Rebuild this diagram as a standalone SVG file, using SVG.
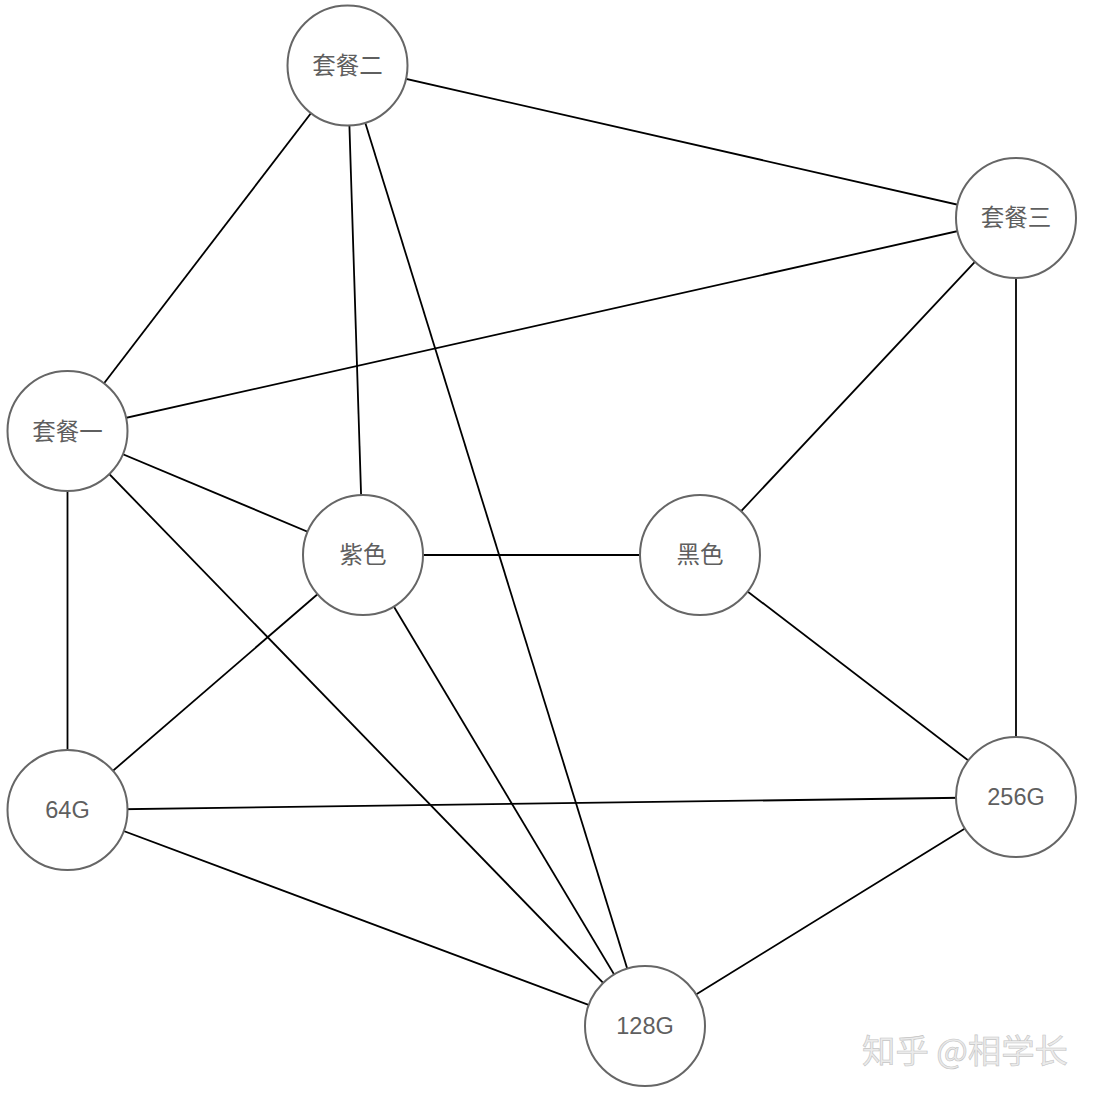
<svg xmlns="http://www.w3.org/2000/svg" width="1096" height="1098" viewBox="0 0 1096 1098">
<style>
.edge{stroke:#000;stroke-width:1.8;fill:none}
.node circle{fill:#fff;stroke:#666;stroke-width:2}
.node text{font-family:"Liberation Sans","Noto Sans CJK SC",sans-serif;font-size:23.5px;fill:#5f5f5f;text-anchor:middle;dominant-baseline:central}
.wm{font-family:"Noto Sans CJK SC","Liberation Sans",sans-serif;font-size:33px;fill:#ebebeb;stroke:#c4c4c4;stroke-width:0.6}
</style>
<rect width="1096" height="1098" fill="#fff"/>
<g id="connectors">
<line class="edge" x1="347.5" y1="65.5" x2="1016" y2="218"/>
<line class="edge" x1="347.5" y1="65.5" x2="67.5" y2="431"/>
<line class="edge" x1="347.5" y1="65.5" x2="363" y2="555"/>
<line class="edge" x1="347.5" y1="65.5" x2="645" y2="1026"/>
<line class="edge" x1="1016" y1="218" x2="67.5" y2="431"/>
<line class="edge" x1="1016" y1="218" x2="700" y2="555"/>
<line class="edge" x1="1016" y1="218" x2="1016" y2="797"/>
<line class="edge" x1="67.5" y1="431" x2="363" y2="555"/>
<line class="edge" x1="67.5" y1="431" x2="67.5" y2="810"/>
<line class="edge" x1="67.5" y1="431" x2="645" y2="1026"/>
<line class="edge" x1="363" y1="555" x2="700" y2="555"/>
<line class="edge" x1="363" y1="555" x2="67.5" y2="810"/>
<line class="edge" x1="363" y1="555" x2="645" y2="1026"/>
<line class="edge" x1="700" y1="555" x2="1016" y2="797"/>
<line class="edge" x1="67.5" y1="810" x2="1016" y2="797"/>
<line class="edge" x1="67.5" y1="810" x2="645" y2="1026"/>
<line class="edge" x1="1016" y1="797" x2="645" y2="1026"/>
</g>
<g id="n-taocan2" class="node"><circle cx="347.5" cy="65.5" r="60"/><text x="347.5" y="66">套餐二</text></g>
<g id="n-taocan3" class="node"><circle cx="1016" cy="218" r="60"/><text x="1016" y="218">套餐三</text></g>
<g id="n-taocan1" class="node"><circle cx="67.5" cy="431" r="60"/><text x="67.5" y="432">套餐一</text></g>
<g id="n-purple" class="node"><circle cx="363" cy="555" r="60"/><text x="363" y="555">紫色</text></g>
<g id="n-black" class="node"><circle cx="700" cy="555" r="60"/><text x="700" y="555">黑色</text></g>
<g id="n-64g" class="node"><circle cx="67.5" cy="810" r="60"/><text x="67.5" y="810">64G</text></g>
<g id="n-256g" class="node"><circle cx="1016" cy="797" r="60"/><text x="1016" y="797">256G</text></g>
<g id="n-128g" class="node"><circle cx="645" cy="1026" r="60"/><text x="645" y="1026">128G</text></g>
<text class="wm" x="862" y="1063" textLength="206" lengthAdjust="spacingAndGlyphs">知乎 @相学长</text>
</svg>
